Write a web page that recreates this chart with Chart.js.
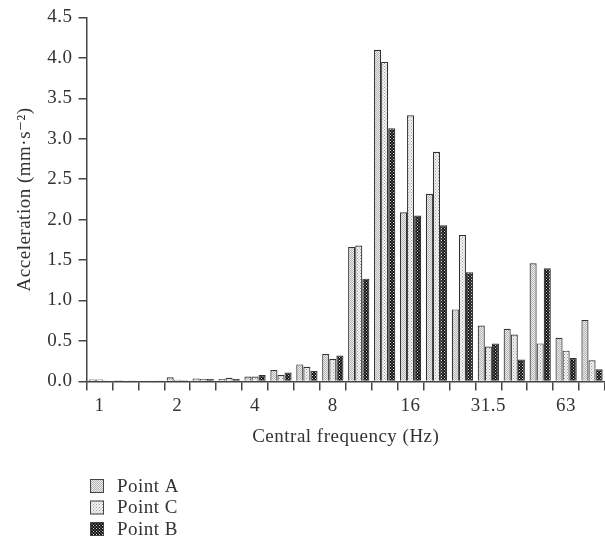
<!DOCTYPE html>
<html>
<head>
<meta charset="utf-8">
<script src="https://cdn.jsdelivr.net/npm/chart.js@4.4.1/dist/chart.umd.min.js"></script>
<style>
  html, body { margin: 0; padding: 0; background: #fff; }
  #wrap { width: 605px; height: 545px; }
</style>
</head>
<body>
<div id="wrap"><canvas id="chart" width="605" height="545"></canvas></div>
<script>
// 1/3 octave central frequencies (Hz)
const bands = ['1', '1.25', '1.6', '2', '2.5', '3.15', '4', '5', '6.3', '8',
               '10', '12.5', '16', '20', '25', '31.5', '40', '50', '63', '80'];
const shownBands = ['1', '2', '4', '8', '16', '31.5', '63'];

// Acceleration (mm/s^2)
const pointA = [0.025, 0.015, 0.01, 0.05, 0.035, 0.03, 0.06, 0.14, 0.21, 0.34,
                1.66, 4.10, 2.09, 2.32, 0.89, 0.69, 0.65, 1.46, 0.54, 0.76];
const pointC = [0.025, 0.012, 0.01, 0.02, 0.03, 0.045, 0.06, 0.08, 0.18, 0.28,
                1.68, 3.95, 3.29, 2.84, 1.81, 0.43, 0.58, 0.47, 0.38, 0.26];
const pointB = [0.01, 0.01, 0.01, 0.015, 0.03, 0.03, 0.08, 0.11, 0.13, 0.32,
                1.27, 3.13, 2.05, 1.93, 1.35, 0.47, 0.27, 1.40, 0.29, 0.15];

const seriesNames = ['Point A', 'Point C', 'Point B'];

const FONT = '"Liberation Serif", "DejaVu Serif", serif';
const INK = '#333';
const SIZE = 19;

// small stipple patterns like the printed figure
function makePattern(bg, dot, step) {
    const c = document.createElement('canvas');
    c.width = step; c.height = step;
    const g = c.getContext('2d');
    g.fillStyle = bg;
    g.fillRect(0, 0, step, step);
    g.fillStyle = dot;
    g.fillRect(0, 0, 1, 1);
    g.fillRect(step / 2, step / 2, 1, 1);
    return g.createPattern(c, 'repeat');
}

const canvas = document.getElementById('chart');
const ctx = canvas.getContext('2d');
const patA = makePattern('#ececec', '#b4b4b4', 2);
const patC = makePattern('#f6f6f6', '#999999', 3);
const patB = makePattern('#111111', '#d0d0d0', 3);

// slightly wider text, closer to the original typeface
const spacing = {
    id: 'spacing',
    beforeInit(chart) { chart.ctx.letterSpacing = '0.5px'; },
    beforeDraw(chart) { chart.ctx.letterSpacing = '0.5px'; }
};

// legend drawn as a vertical list under the axis title
const legendList = {
    id: 'legendList',
    afterDraw(chart) {
        const g = chart.ctx;
        const x = 90, y0 = 486, gap = 21.5;
        g.save();
        chart.data.datasets.forEach((ds, i) => {
            const y = y0 + i * gap;
            g.fillStyle = ds.backgroundColor;
            g.fillRect(x, y - 7, 14, 14);
            g.strokeStyle = '#444';
            g.lineWidth = 1;
            g.strokeRect(x + 0.5, y - 6.5, 13, 13);
            g.fillStyle = INK;
            g.font = SIZE + 'px ' + FONT;
            g.textBaseline = 'middle';
            g.fillText(ds.label, 117, y + 1);
        });
        g.restore();
    }
};

new Chart(ctx, {
    type: 'bar',
    data: {
        labels: bands,
        datasets: [
            { label: seriesNames[0], data: pointA, backgroundColor: patA },
            { label: seriesNames[1], data: pointC, backgroundColor: patC },
            { label: seriesNames[2], data: pointB, backgroundColor: patB }
        ].map(ds => Object.assign(ds, {
            borderColor: '#333',
            borderWidth: 1.2,
            borderSkipped: 'bottom',
            categoryPercentage: 0.82,
            barPercentage: 1.0
        }))
    },
    options: {
        responsive: false,
        animation: false,
        layout: { padding: { top: 7, right: 0, bottom: 93, left: 10 } },
        plugins: {
            legend: { display: false },
            tooltip: { enabled: false }
        },
        scales: {
            x: {
                offset: true,
                grid: {
                    offset: true,
                    drawOnChartArea: false,
                    drawTicks: true,
                    tickLength: 9,
                    color: '#444',
                    lineWidth: 1.5
                },
                border: { display: true, color: '#444', width: 1.5 },
                ticks: {
                    autoSkip: false,
                    maxRotation: 0,
                    color: INK,
                    font: { family: FONT, size: SIZE },
                    padding: 4,
                    callback: function (value) {
                        const lab = this.getLabelForValue(value);
                        return shownBands.includes(lab) ? lab : '';
                    }
                },
                title: {
                    display: true,
                    text: 'Central frequency (Hz)',
                    color: INK,
                    font: { family: FONT, size: SIZE },
                    padding: { top: 4 }
                }
            },
            y: {
                min: 0,
                max: 4.5,
                grid: {
                    drawOnChartArea: false,
                    drawTicks: true,
                    tickLength: 8,
                    color: '#444',
                    lineWidth: 1.5
                },
                border: { display: true, color: '#444', width: 1.5 },
                ticks: {
                    stepSize: 0.5,
                    color: INK,
                    font: { family: FONT, size: SIZE },
                    padding: 6,
                    callback: v => v.toFixed(1)
                },
                title: {
                    display: true,
                    text: 'Acceleration (mm\u00b7s\u207b\u00b2)',
                    color: INK,
                    font: { family: FONT, size: SIZE },
                    padding: { bottom: 6 }
                }
            }
        }
    },
    plugins: [spacing, legendList]
});
</script>
</body>
</html>
